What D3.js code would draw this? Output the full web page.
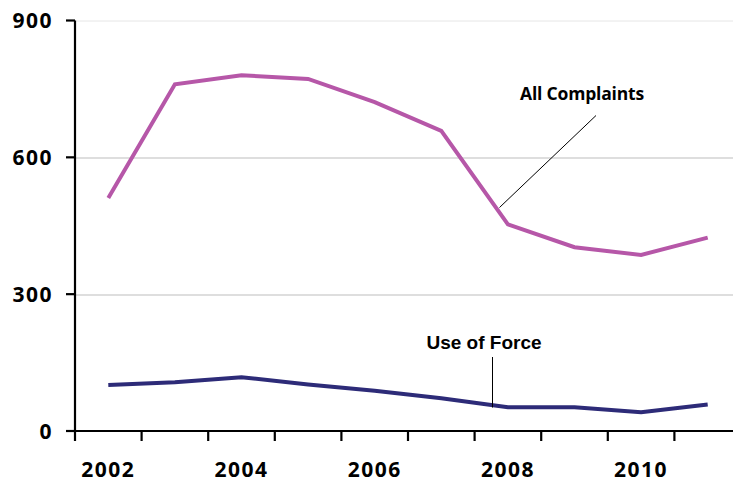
<!DOCTYPE html>
<html>
<head>
<meta charset="utf-8">
<script src="https://cdn.jsdelivr.net/npm/d3@7"></script>
<style>
  body { margin: 0; background: #fff; }
  .tick text { font-family: "Open Sans", sans-serif; font-weight: 700; font-size: 21px; letter-spacing: 1.5px; fill: #000; }
</style>
</head>
<body>
<svg id="chart" width="733" height="482"></svg>
<script>
// chart data
const years = ["2002", "2003", "2004", "2005", "2006", "2007", "2008", "2009", "2010", "2011"];
const allComplaints = [511, 760, 780, 772, 721, 658, 453, 403, 386, 424];
const useOfForce = [101, 107, 118, 102, 88, 72, 52, 52, 41, 58];
const yTicks = [0, 300, 600, 900];
const xLabels = ["2002", "2004", "2006", "2008", "2010"];

// set the dimensions
let margin = {top: 20.5, left: 75},
    width = 666,
    height = 410.5;

const svg = d3.select("#chart");
const g = svg.append("g")
    .attr("transform", "translate(" + margin.left + "," + margin.top + ")");

// scales
const x = d3.scaleBand()
    .domain(years)
    .range([0, width]);

const y = d3.scaleLinear()
    .domain([0, 900])
    .range([height, 0]);

// gridlines
g.selectAll(".grid")
    .data(yTicks.filter(d => d > 0))
    .enter().append("line")
    .attr("x1", 0)
    .attr("x2", width)
    .attr("y1", d => Math.round(y(d)) + 0.5)
    .attr("y2", d => Math.round(y(d)) + 0.5)
    .attr("stroke", d => d === 900 ? "#e6e6e6" : "#bdbdbd")
    .attr("stroke-width", 1);

// lines
const line = d3.line()
    .x(d => x(d.year) + x.bandwidth() / 2)
    .y(d => y(d.value));

const series = [
    {values: allComplaints, color: "#b657a8"},
    {values: useOfForce, color: "#2d2b78"}
];

series.forEach(function (s) {
    g.append("path")
        .datum(years.map((yr, i) => ({year: yr, value: s.values[i]})))
        .attr("fill", "none")
        .attr("stroke", s.color)
        .attr("stroke-width", 4)
        .attr("stroke-linejoin", "miter")
        .attr("d", line);
});

// x axis: ticks at band boundaries, labels every other year
const xAxisG = g.append("g")
    .attr("transform", "translate(0," + height + ")");

xAxisG.append("line")
    .attr("x1", -9).attr("x2", width + 10)
    .attr("stroke", "#000").attr("stroke-width", 2.2);

xAxisG.selectAll(".xt")
    .data(years)
    .enter().append("line")
    .attr("x1", d => x(d)).attr("x2", d => x(d))
    .attr("y1", 0).attr("y2", 10)
    .attr("stroke", "#000").attr("stroke-width", 2.2);

xAxisG.selectAll(".tick")
    .data(xLabels)
    .enter().append("g")
    .attr("class", "tick")
    .append("text")
    .attr("x", d => x(d) + x.bandwidth() / 2)
    .attr("y", 46)
    .attr("text-anchor", "middle")
    .text(d => d);

// y axis
const yAxisG = g.append("g");

yAxisG.append("line")
    .attr("y1", 0).attr("y2", height)
    .attr("stroke", "#000").attr("stroke-width", 2.2);

const yt = yAxisG.selectAll(".tick")
    .data(yTicks)
    .enter().append("g")
    .attr("class", "tick")
    .attr("transform", d => "translate(0," + y(d) + ")");

yt.append("line")
    .attr("x1", -9).attr("x2", 0)
    .attr("stroke", "#000").attr("stroke-width", 2.2);

yt.append("text")
    .attr("x", -22)
    .attr("dy", "0.36em")
    .attr("text-anchor", "end")
    .text(d => d);

// annotations
const ann = svg.append("g");

ann.append("text")
    .attr("x", 582)
    .attr("y", 100)
    .attr("text-anchor", "middle")
    .style("font-family", "'Open Sans', sans-serif")
    .style("font-weight", 700)
    .style("font-size", "17.5px")
    .style("letter-spacing", "-0.2px")
    .text("All Complaints");

ann.append("line")
    .attr("x1", 596).attr("y1", 115.5)
    .attr("x2", 499.5).attr("y2", 207.5)
    .attr("stroke", "#000").attr("stroke-width", 1);

ann.append("text")
    .attr("x", 484)
    .attr("y", 348.5)
    .attr("text-anchor", "middle")
    .style("font-family", "'Liberation Sans', Arial, sans-serif")
    .style("font-weight", 700)
    .style("font-size", "19px")
    .text("Use of Force");

ann.append("line")
    .attr("x1", 492.5).attr("y1", 357)
    .attr("x2", 492.5).attr("y2", 407.5)
    .attr("stroke", "#000").attr("stroke-width", 1);
</script>
</body>
</html>
